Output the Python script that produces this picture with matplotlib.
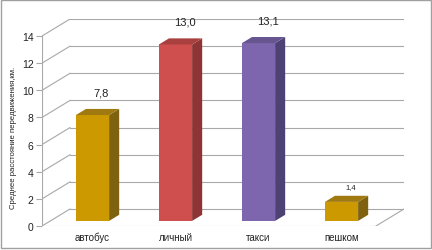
import matplotlib
matplotlib.use("Agg")
import matplotlib.pyplot as plt
from matplotlib.patches import Polygon, Rectangle

categories = ["автобус", "личный", "такси", "пешком"]
values = [7.8, 13.0, 13.1, 1.4]
value_labels = ["7,8", "13,0", "13,1", "1,4"]
yticks = [0, 2, 4, 6, 8, 10, 12, 14]
ylabel = "Среднее расстояние передвижения,км."

front_colors = ["#CC9900", "#CF4F4F", "#7E66AE", "#CC9900"]
side_colors = ["#7E6210", "#8E3434", "#4E4274", "#7E6210"]
top_colors = ["#A07A10", "#A84040", "#66558F", "#A07A10"]

plt.rcParams['font.family'] = ['Liberation Sans', 'DejaVu Sans']

W, H = 432, 251
fig = plt.figure(figsize=(W / 100, H / 100), dpi=100)
fig.patch.set_facecolor("white")

ax_left, ax_bottom, ax_w, ax_h = 42, 24, 362, 207
ax = fig.add_axes([ax_left / W, ax_bottom / H, ax_w / W, ax_h / H])
px_per_x = 83.0
px_per_y = 13.57
x0 = (42 - 84.1) / px_per_x
x1 = x0 + ax_w / px_per_x
y1 = ax_h / px_per_y
ax.set_xlim(x0, x1)
ax.set_ylim(0, y1)
ax.set_facecolor("none")
for s in ax.spines.values():
    s.set_visible(False)

ddx = 28 / px_per_x
ddy = 17 / px_per_y
gc = "#A8A8A8"
lw = 0.8

# back wall gridlines and left side wall slants
for v in yticks:
    ax.plot([x0 + ddx, x1], [v + ddy, v + ddy], color=gc, lw=lw, zorder=1)
    ax.plot([x0, x0 + ddx], [v, v + ddy], color=gc, lw=lw, zorder=1)
# floor
ax.plot([x0, x1 - ddx], [0, 0], color=gc, lw=lw, zorder=1)
ax.plot([x1 - ddx, x1], [0, ddy], color=gc, lw=lw, zorder=1)
# front axis
ax.plot([x0, x0], [0, 14], color=gc, lw=lw, zorder=2)

f = 0.3
g = 0.36
bw = 0.4
xs = list(range(len(categories)))
bars = ax.bar([x + f * ddx for x in xs], values, width=bw, bottom=f * ddy,
              color=front_colors, zorder=3, linewidth=0)
for i, (b, v) in enumerate(zip(bars, values)):
    xl = b.get_x()
    xr = xl + b.get_width()
    yb = b.get_y()
    yt = yb + b.get_height()
    side = Polygon([(xr, yb), (xr, yt), (xr + g * ddx, yt + g * ddy), (xr + g * ddx, yb + g * ddy)],
                   closed=True, facecolor=side_colors[i], edgecolor="none", zorder=3)
    top = Polygon([(xl, yt), (xr, yt), (xr + g * ddx, yt + g * ddy), (xl + g * ddx, yt + g * ddy)],
                  closed=True, facecolor=top_colors[i], edgecolor="none", zorder=3)
    ax.add_patch(side)
    ax.add_patch(top)
    small = v < 3
    ax.annotate(value_labels[i], (xl + bw / 2 + g * ddx * 0.9, yt + g * ddy),
                xytext=(0, 4 if small else 8.5), textcoords="offset points",
                ha="center", va="bottom", fontsize=5.5 if small else 8, color="#222222")

ax.set_xticks([x + f * ddx for x in xs])
ax.set_xticklabels(categories, fontsize=7, color="#222222")
ax.tick_params(axis="x", length=0, pad=4)
ax.set_yticks(yticks)
ax.set_yticklabels([str(t) for t in yticks], fontsize=7.5, color="#222222")
ax.tick_params(axis="y", length=4, width=0.8, color=gc, pad=2)

fig.text(14 / W, 1 - 138 / H, ylabel, rotation=90, ha="center", va="center",
         fontsize=5.6, color="#222222")

# figure border
fig.patches.append(Rectangle((0.5 / W, 2 / H), (W - 2) / W, (H - 3) / H, transform=fig.transFigure,
                             fill=False, edgecolor="#A0A0A0", lw=1.0))

fig.savefig("out.png", dpi=100)
